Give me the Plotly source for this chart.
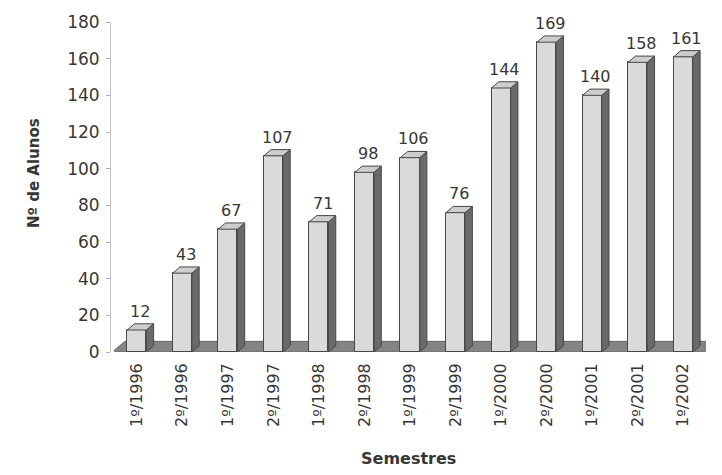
import plotly.graph_objects as go

# Enrolment per semester
semestres = ["1º/1996", "2º/1996", "1º/1997", "2º/1997", "1º/1998", "2º/1998",
             "1º/1999", "2º/1999", "1º/2000", "2º/2000", "1º/2001", "2º/2001",
             "1º/2002"]
alunos = [12, 43, 67, 107, 71, 98, 106, 76, 144, 169, 140, 158, 161]

y_ticks = [0, 20, 40, 60, 80, 100, 120, 140, 160, 180]

# pseudo-3D geometry (data units)
BAR_W = 0.42      # width of the front face
DX = 0.16         # depth offset to the right
DY = 3.4          # depth offset upwards
FLOOR_DX = 0.28
FLOOR_DY = 5.8

FRONT = "#dadada"
SIDE = "#6a6a6a"
TOP = "#cdcdcd"
EDGE = "#474747"
FONT = "DejaVu Sans"
TXT = "#363636"

xs = list(range(len(semestres)))

fig = go.Figure()

# front faces
fig.add_trace(go.Bar(
    x=xs, y=alunos, width=BAR_W,
    marker=dict(color=FRONT, line=dict(color=EDGE, width=1)),
    hoverinfo="skip", showlegend=False,
))

# side and top faces derived from each bar's value
for x, v in zip(xs, alunos):
    r = x + BAR_W / 2
    l = x - BAR_W / 2
    fig.add_trace(go.Scatter(
        x=[r, r + DX, r + DX, r, r], y=[0, DY, v + DY, v, 0],
        mode="lines", fill="toself", fillcolor=SIDE,
        line=dict(color=EDGE, width=1), hoverinfo="skip", showlegend=False,
    ))
    fig.add_trace(go.Scatter(
        x=[l, r, r + DX, l + DX, l], y=[v, v, v + DY, v + DY, v],
        mode="lines", fill="toself", fillcolor=TOP,
        line=dict(color=EDGE, width=1), hoverinfo="skip", showlegend=False,
    ))

# value labels
for x, v in zip(xs, alunos):
    fig.add_annotation(
        x=x + DX / 2, y=v + DY, text=str(v), showarrow=False,
        yanchor="bottom", yshift=1,
        font=dict(family=FONT, size=16, color=TXT),
    )

# floor of the plot
x0, x1 = -0.5 - 0.04, len(semestres) - 0.5
fig.add_shape(
    type="path", xref="x", yref="y", layer="below",
    path=(f"M {x0} 0 L {x1} 0 L {x1 + FLOOR_DX} {FLOOR_DY} "
          f"L {x0 + FLOOR_DX} {FLOOR_DY} Z"),
    fillcolor="#848484", line=dict(color="#686868", width=1),
)

# axis titles
fig.add_annotation(
    x=0.5, y=0, xref="paper", yref="paper", yshift=-106,
    text="<b>Semestres</b>", showarrow=False, yanchor="middle",
    font=dict(family=FONT, size=16, color=TXT),
)
fig.add_annotation(
    x=0, y=0.5, xref="paper", yref="paper", xshift=-87, yshift=14,
    text="<b>Nº de Alunos</b>", showarrow=False, textangle=-90,
    font=dict(family=FONT, size=15, color=TXT),
)

fig.update_layout(
    width=722, height=475,
    margin=dict(l=110, r=16, t=22, b=123),
    paper_bgcolor="white", plot_bgcolor="white",
    bargap=0,
    xaxis=dict(
        domain=[4 / 596, 1],
        range=[-0.5, len(semestres) - 0.5],
        tickvals=xs, ticktext=semestres, tickangle=-90,
        showline=False, showgrid=False, zeroline=False, ticks="",
        ticklabelstandoff=7,
        tickfont=dict(family=FONT, size=16, color=TXT),
    ),
    yaxis=dict(
        range=[0, 180], tickvals=y_ticks,
        anchor="free", position=0,
        showline=True, linecolor="#c4c4c4", linewidth=1,
        ticks="outside", ticklen=4, tickcolor="#b0b0b0",
        showgrid=False, zeroline=False,
        ticklabelstandoff=3,
        tickfont=dict(family=FONT, size=17, color=TXT),
    ),
)

fig.write_html("out.html")
